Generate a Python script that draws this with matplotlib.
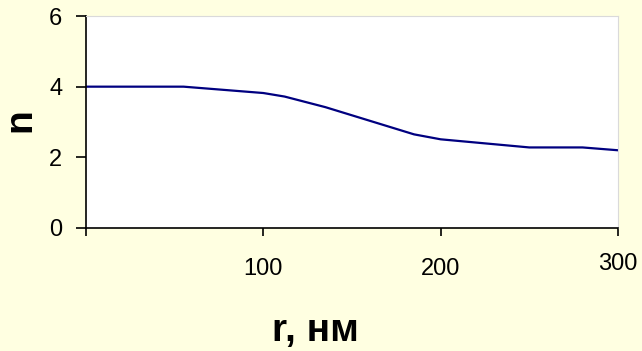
import matplotlib
matplotlib.use("Agg")
import matplotlib.pyplot as plt
import matplotlib.transforms as mtransforms
from matplotlib import font_manager

r_nm = [0, 55, 100, 112, 135, 185, 200, 250, 280, 300]
n_vals = [4.0, 4.0, 3.82, 3.72, 3.42, 2.65, 2.51, 2.28, 2.28, 2.2]
x_ticks = [0, 100, 200, 300]
x_ticklabels = ["", "100", "200", "300"]
y_ticks = [0, 2, 4, 6]

names = {f.name for f in font_manager.fontManager.ttflist}
fam = ["Liberation Sans Narrow", "Liberation Sans", "DejaVu Sans"] if "Liberation Sans Narrow" in names else ["Liberation Sans", "DejaVu Sans"]
plt.rcParams["font.family"] = fam

bg = "#FFFFE1"
fig = plt.figure(figsize=(6.42, 3.51), dpi=100, facecolor=bg)
ax = fig.add_axes([86/642, 1-228/351, (618-86)/642, (228-16)/351])
ax.set_facecolor("white")

ax.plot(r_nm, n_vals, color="#000080", lw=1.6)
ax.set_xlim(0, 300)
ax.set_ylim(0, 6)
ax.set_xticks(x_ticks)
ax.set_xticklabels(x_ticklabels)
ax.set_yticks(y_ticks)

for s in ["top", "right"]:
    ax.spines[s].set_color("#DADADA")
    ax.spines[s].set_linewidth(0.8)
for s in ["left", "bottom"]:
    ax.spines[s].set_color("black")
    ax.spines[s].set_linewidth(1.2)

ax.tick_params(axis="y", direction="out", length=7, width=1.2, pad=10, labelsize=17)
ax.tick_params(axis="x", direction="out", length=5.5, width=1.2, pad=16, labelsize=17)

labels = ax.get_xticklabels()
off = mtransforms.ScaledTranslation(0, 4.5/100, fig.dpi_scale_trans)
labels[-1].set_transform(labels[-1].get_transform() + off)

fig.text(20/642, 1-120/351, "n", rotation=90, fontsize=28, fontweight="bold",
         ha="center", va="center")
fig.text(315/642, 1-331/351, "r, нм", fontsize=28, fontweight="bold",
         ha="center", va="center")

fig.savefig("out.png", dpi=100, facecolor=bg)
